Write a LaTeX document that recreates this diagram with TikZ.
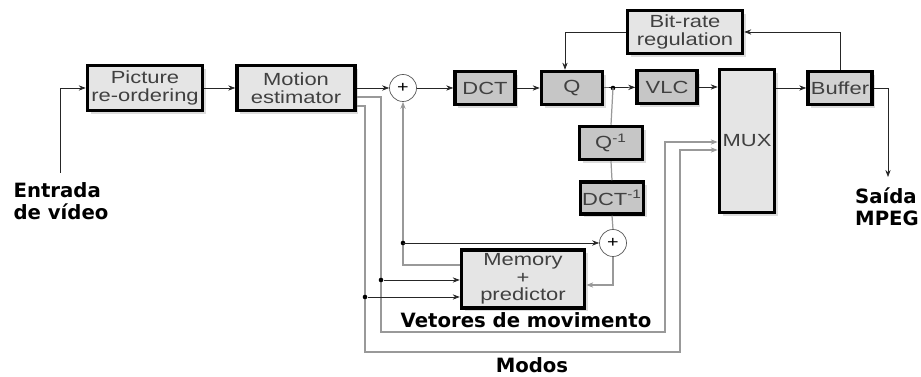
\documentclass[tikz,border=0pt]{standalone}
\usepackage{fontspec}
\setsansfont{Liberation Sans}[FakeStretch=1.25]
\newfontfamily\lblfont{DejaVu Sans}
\usetikzlibrary{positioning, arrows.meta, shadows}

\begin{document}
\begin{tikzpicture}[x=0.02cm, y=-0.02cm,
	blk/.style={draw=black, line width=2pt, fill=gray!20, text=black!75,
		font=\sffamily\fontsize{10}{10}\selectfont, align=center, inner sep=1pt,
		drop shadow={shadow xshift=1.8pt, shadow yshift=-1.8pt, fill=gray!55}},
	dblk/.style={blk, fill=gray!45},
	sum/.style={circle, draw=black!65, thin, fill=white, minimum size=0.54cm, inner sep=0pt,
		font=\sffamily\small},
	sig/.style={-{Stealth[length=4pt,width=3pt]}, black!85, thin},
	fbk/.style={gray!80, line width=0.7pt},
	lbl/.style={font=\lblfont\bfseries\fontsize{11.2}{12.5}\selectfont, align=left, inner sep=0pt},
	tap/.style={circle, fill=black, inner sep=0pt, minimum size=2.6pt}]

	% page frame
	\useasboundingbox (0,0) rectangle (921,377);

	% main chain
	\node[blk, minimum width=2.3cm, minimum height=0.9cm] (reorder) at (145,88) {Picture\\re-ordering};
	\node[blk, minimum width=2.36cm, minimum height=0.9cm] (motion) at (296,88) {Motion\\estimator};
	\node[sum] (plus1) at (403,88) {+};
	\node[dblk, minimum width=1.2cm, minimum height=0.66cm] (dct) at (485,88) {DCT};
	\node[dblk, minimum width=1.22cm, minimum height=0.66cm] (q) at (572,88) {Q};
	\node[dblk, minimum width=1.2cm, minimum height=0.66cm] (vlc) at (667,87) {VLC};
	\node[blk, minimum width=1.1cm, minimum height=2.86cm] (mux) at (747,141) {MUX};
	\node[dblk, fill=gray!35, minimum width=1.28cm, minimum height=0.66cm] (buffer) at (840,88) {Buffer};
	\node[blk, minimum width=2.3cm, minimum height=0.86cm] (bitrate) at (685,32) {Bit-rate\\regulation};

	% local decoder
	\node[dblk, minimum width=1.26cm, minimum height=0.66cm] (qinv) at (611,143) {Q\textsuperscript{-1}};
	\node[dblk, minimum width=1.2cm, minimum height=0.64cm] (dctinv) at (612,198) {DCT\textsuperscript{-1}};
	\node[sum] (plus2) at (613,243) {+};
	\node[blk, minimum width=2.46cm, minimum height=1.16cm] (memory) at (523,279) {Memory\\+\\predictor};

	% labels
	\node[lbl] (entrada) at (61,201) {Entrada\\de vídeo};
	\node[lbl] (saida) at (887,207) {Saída\\MPEG};
	\node[lbl] (vetores) at (526,320) {Vetores de movimento};
	\node[lbl] (modos) at (532,365) {Modos};

	\coordinate (in) at (60,173);
	\coordinate (out) at (888,177);
	\coordinate (qtap) at (613,88);
	\coordinate (fb) at (plus1 |- plus2);

	% forward path
	\draw[sig] (in) |- (reorder.west);
	\draw[sig] (reorder) -- (motion);
	\draw[sig] (motion.east) -- (plus1.west);
	\draw[sig] (plus1) -- (dct);
	\draw[sig] (dct) -- (q);
	\draw[sig] (q) -- (vlc);
	\draw[sig] (vlc.east) -- (vlc.east -| mux.west);
	\draw[sig] (mux.east |- buffer) -- (buffer.west);
	\draw[sig] (buffer.east) -| (out);

	% rate control
	\draw[sig] (buffer.north) |- (bitrate.east);
	\draw[sig] (bitrate.west) -| ([xshift=-0.14cm]q.north);

	% reconstruction loop
	\node[tap] at (qtap) {};
	\draw[fbk] (qtap) -- (qinv.north);
	\draw[fbk] (qinv.south) -- (dctinv.north);
	\draw[fbk] (dctinv.south) -- (plus2.north);
	\draw[sig, fbk] (plus2.south) |- ([yshift=-0.12cm]memory.east);
	\draw[sig, fbk] ([yshift=0.28cm]memory.west) -| (plus1.south);
	\node[tap] at (fb) {};
	\draw[sig] (fb) -- (plus2.west);

	% motion vectors and modes
	\draw[sig, fbk] ([yshift=-0.18cm]motion.east) -| (381,332) -| (665,142) -- (mux.west |- 0,142);
	\draw[sig, fbk] ([yshift=-0.36cm]motion.east) -| (365,352) -| (680,150) -- (mux.west |- 0,150);
	\node[tap] (tapv) at (381,280) {};
	\node[tap] (tapm) at (365,297) {};
	\draw[sig] (tapv) -- (tapv -| memory.west);
	\draw[sig] (tapm) -- (tapm -| memory.west);

\end{tikzpicture}
\end{document}
